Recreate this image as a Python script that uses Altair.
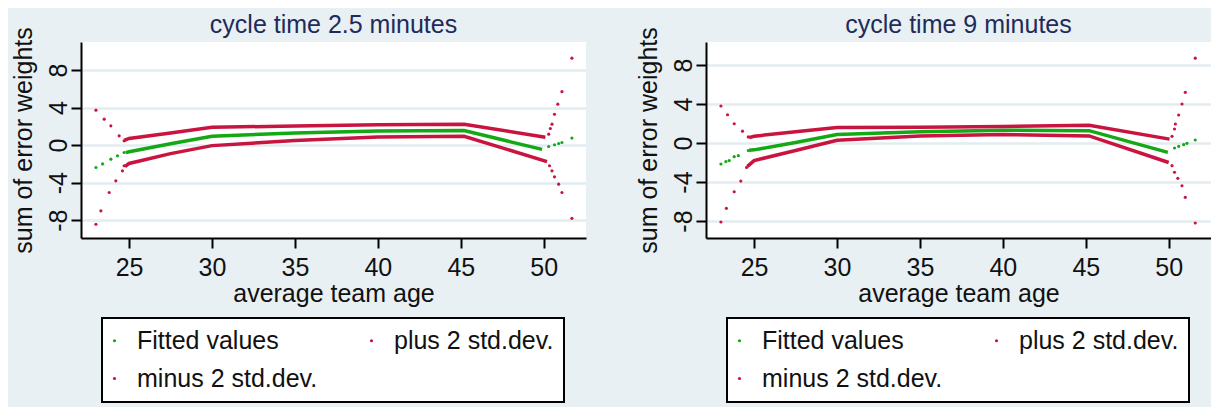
import altair as alt
import pandas as pd

SERIES = ["Fitted values", "minus 2 std.dev.", "plus 2 std.dev."]
COLORS = ["#14A814", "#C8143F", "#C8143F"]
X_TICKS = [25, 30, 35, 40, 45, 50]
Y_TICKS = [-8, -4, 0, 4, 8]

# ---- left panel: cycle time 2.5 minutes ----
L_fit_dot_x = [23.0, 23.4, 23.9, 24.3, 24.7, 50.3, 50.65, 50.9, 51.1, 51.7]
L_fit_dot_y = [-2.38, -2.0, -1.49, -1.14, -0.78, -0.14, 0.04, 0.18, 0.28, 0.75]
L_plus_dot_x = [23.0, 23.5, 23.9, 24.4, 24.7, 50.3, 50.4, 50.5, 50.65, 50.85, 51.1, 51.7]
L_plus_dot_y = [3.73, 2.77, 2.06, 0.99, 0.46, 1.17, 1.78, 2.24, 3.3, 4.37, 5.7, 9.28]
L_minus_dot_x = [23.0, 23.3, 23.8, 24.2, 24.6, 24.7, 50.35, 50.5, 50.65, 50.9, 51.1, 51.7]
L_minus_dot_y = [-8.43, -7.0, -5.05, -3.8, -2.74, -2.2, -2.2, -2.74, -3.38, -4.16, -5.05, -7.8]
L_fit_line_x = [24.8, 25, 27.5, 30, 35, 40, 45.2, 49.9]
L_fit_line_y = [-0.8, -0.7, 0.15, 0.95, 1.3, 1.5, 1.55, -0.45]
L_plus_line_x = [24.7, 25, 27.5, 30, 35, 40, 45.2, 50.1]
L_plus_line_y = [0.5, 0.72, 1.3, 1.9, 2.05, 2.17, 2.22, 0.85]
L_minus_line_x = [24.75, 25, 27.5, 30, 35, 40, 45.2, 50.2]
L_minus_line_y = [-2.3, -1.95, -0.9, -0.05, 0.5, 0.88, 0.95, -1.75]

# ---- right panel: cycle time 9 minutes ----
R_fit_dot_x = [23.0, 23.3, 23.5, 23.8, 24.05, 24.65, 50.35, 50.6, 50.9, 51.1, 51.6]
R_fit_dot_y = [-2.15, -1.9, -1.8, -1.4, -1.3, -0.77, -0.51, -0.34, -0.17, -0.03, 0.31]
R_plus_dot_x = [23.0, 23.4, 23.8, 24.3, 24.65, 50.2, 50.35, 50.4, 50.6, 50.8, 51.0, 51.6]
R_plus_dot_y = [3.8, 2.9, 1.98, 1.22, 0.63, 0.69, 1.44, 1.95, 2.87, 4.0, 5.2, 8.7]
R_minus_dot_x = [23.0, 23.33, 23.8, 24.2, 24.55, 50.2, 50.35, 50.55, 50.8, 51.0, 51.6]
R_minus_dot_y = [-8.1, -6.7, -5.0, -3.9, -2.5, -2.32, -3.0, -3.62, -4.38, -5.57, -8.2]
R_fit_line_x = [24.7, 25, 27.5, 30, 35, 40, 45.2, 49.95]
R_fit_line_y = [-0.75, -0.7, 0.05, 0.87, 1.15, 1.32, 1.27, -0.96]
R_plus_line_x = [24.7, 25, 27.5, 30, 35, 40, 45.2, 50.05]
R_plus_line_y = [0.55, 0.7, 1.15, 1.6, 1.63, 1.7, 1.82, 0.4]
R_minus_line_x = [24.6, 25, 27.5, 30, 35, 40, 45.2, 50.0]
R_minus_line_y = [-2.4, -1.8, -0.77, 0.28, 0.73, 0.87, 0.73, -2.0]

FONT = "Liberation Sans"
FS = 25


def frame(parts):
    rows = []
    for series, kind, xs, ys in parts:
        for x, y in zip(xs, ys):
            rows.append({"x": x, "y": y, "series": series, "kind": kind})
    return pd.DataFrame(rows)


def panel(df, title, ydomain):
    color_scale = alt.Scale(domain=SERIES, range=COLORS)
    x = alt.X("x:Q",
              scale=alt.Scale(domain=[22.1, 52.55], nice=False, zero=False),
              axis=alt.Axis(values=X_TICKS, title="average team age", grid=False,
                            labelFontSize=FS, titleFontSize=FS, labelFont=FONT, titleFont=FONT,
                            titleFontWeight="normal", labelColor="#111111", titleColor="#111111",
                            tickSize=10, tickWidth=2, tickColor="black",
                            domainColor="black", domainWidth=2, labelPadding=7, titlePadding=1))
    y = alt.Y("y:Q",
              scale=alt.Scale(domain=ydomain, nice=False, zero=False),
              axis=alt.Axis(values=Y_TICKS, title="sum of error weights", grid=True,
                            gridColor="#E3ECF0", gridWidth=2.5,
                            labelAngle=270, labelFontSize=FS, titleFontSize=FS,
                            labelFont=FONT, titleFont=FONT, titleFontWeight="normal",
                            labelColor="#111111", titleColor="#111111",
                            labelExpr="datum.value < 0 ? '-' + abs(datum.value) : '' + datum.value",
                            tickSize=10, tickWidth=2, tickColor="black",
                            domainColor="black", domainWidth=2, labelPadding=0, titlePadding=10))
    legend = alt.Legend(title=None, orient="none", legendX=21, legendY=276, columns=2,
                        values=SERIES,
                        fillColor="white", strokeColor="black", padding=10,
                        labelFontSize=FS, labelFont=FONT, labelColor="#111111",
                        symbolType="circle", symbolSize=10, symbolStrokeWidth=0,
                        symbolOffset=-10,
                        labelOffset=10, columnPadding=51, rowPadding=12, labelLimit=400)
    base = alt.Chart(df).encode(x=x, y=y)
    dots = base.transform_filter(alt.datum.kind == "dot").mark_circle(size=10, opacity=1).encode(
        color=alt.Color("series:N", scale=color_scale, legend=legend, sort=SERIES))
    lines = base.transform_filter(alt.datum.kind == "line").mark_line(strokeWidth=3.5).encode(
        color=alt.Color("series:N", scale=color_scale, legend=None, sort=SERIES),
        detail="series:N")
    return alt.layer(dots, lines).properties(
        width=505, height=196,
        title=alt.TitleParams(title, fontSize=FS, font=FONT, fontWeight="normal",
                              color="#1F2B5B", anchor="middle", frame="group", offset=-11))


left_df = frame([
    ("Fitted values", "dot", L_fit_dot_x, L_fit_dot_y),
    ("plus 2 std.dev.", "dot", L_plus_dot_x, L_plus_dot_y),
    ("minus 2 std.dev.", "dot", L_minus_dot_x, L_minus_dot_y),
    ("Fitted values", "line", L_fit_line_x, L_fit_line_y),
    ("plus 2 std.dev.", "line", L_plus_line_x, L_plus_line_y),
    ("minus 2 std.dev.", "line", L_minus_line_x, L_minus_line_y),
])
right_df = frame([
    ("Fitted values", "dot", R_fit_dot_x, R_fit_dot_y),
    ("plus 2 std.dev.", "dot", R_plus_dot_x, R_plus_dot_y),
    ("minus 2 std.dev.", "dot", R_minus_dot_x, R_minus_dot_y),
    ("Fitted values", "line", R_fit_line_x, R_fit_line_y),
    ("plus 2 std.dev.", "line", R_plus_line_x, R_plus_line_y),
    ("minus 2 std.dev.", "line", R_minus_line_x, R_minus_line_y),
])

left = panel(left_df, "cycle time 2.5 minutes", [-9.9, 11.0])
right = panel(right_df, "cycle time 9 minutes", [-9.74, 10.36])

chart = alt.hconcat(left, right, spacing=50).resolve_scale(
    y="independent").resolve_legend(color="independent").properties(
    background="#E8F0F3",
    padding={"left": 3, "top": 4, "right": 0, "bottom": 4},
).configure_view(fill="white", strokeWidth=0).configure_legend(strokeWidth=2)

chart.save("out.html", embed_options={"renderer": "svg", "actions": False})
